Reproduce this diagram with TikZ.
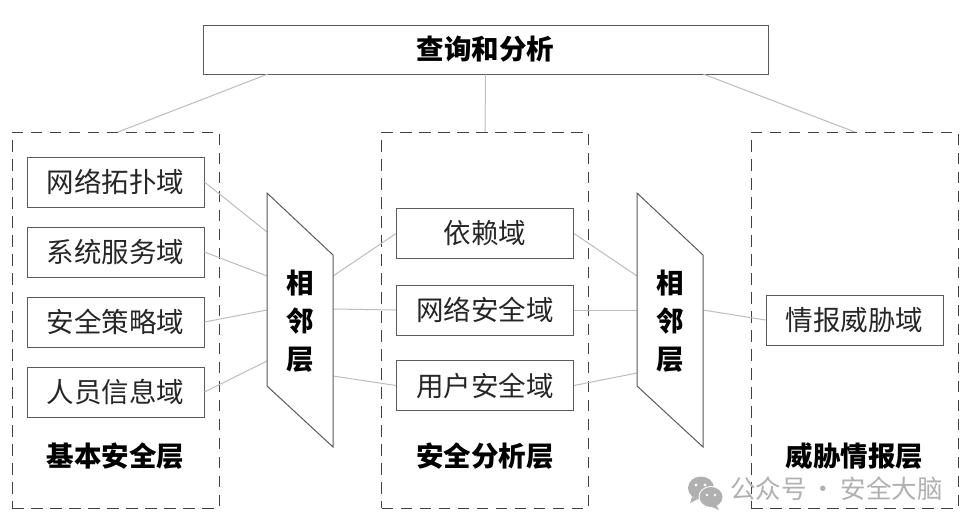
\documentclass[tikz,border=0pt]{standalone}
\usepackage{fontspec}
\setmainfont{Noto Sans CJK SC}
\definecolor{boxline}{HTML}{5A5A5A}
\definecolor{linkline}{HTML}{BDBDBD}
\definecolor{wm}{HTML}{B0B0B0}
\tikzset{
  boxnode/.style={draw=boxline,line width=0.9pt,fill=white,inner sep=0pt,minimum width=177pt,minimum height=50pt,font=\fontsize{27.5}{30}\selectfont,text=black!85},
  zone/.style={draw=black!75,line width=1pt,dash pattern=on 11.5pt off 7.5pt,inner sep=0pt,minimum width=207pt,minimum height=376pt},
  link/.style={draw=linkline,line width=1pt},
  para/.style={draw=boxline,line width=1pt,fill=white,line join=miter},
  head/.style={font=\bfseries\fontsize{27.5}{30}\selectfont,text=black,inner sep=0pt},
  vhead/.style={font=\bfseries\fontsize{27.5}{38}\selectfont,text=black,inner sep=0pt,align=center},
}
\begin{document}
\begin{tikzpicture}[x=1pt,y=-1pt]
\useasboundingbox (0,0) rectangle (973,528);
\fill[white] (0,0) rectangle (973,528);
% zones
\node[zone] (zoneA) at (115.5,320) {};
\node[zone] (zoneB) at (485,320) {};
\node[zone] (zoneC) at (854.5,320) {};
% top
\node[boxnode,minimum width=565pt,minimum height=49pt,font=\bfseries\fontsize{27.5}{30}\selectfont,text=black] (top) at (485.5,49.5) {查询和分析};
% boxes
\node[boxnode] (a1) at (115.5,182) {网络拓扑域};
\node[boxnode] (a2) at (115.5,252) {系统服务域};
\node[boxnode] (a3) at (115.5,322) {安全策略域};
\node[boxnode] (a4) at (115.5,392) {人员信息域};
\node[boxnode] (b1) at (485,233.5) {依赖域};
\node[boxnode] (b2) at (485,310) {网络安全域};
\node[boxnode] (b3) at (485,385.5) {用户安全域};
\node[boxnode] (c1) at (854.5,320) {情报威胁域};
% parallelograms
\coordinate (p1a) at (267,193); \coordinate (p1b) at (333,255);
\coordinate (p1c) at (333,447); \coordinate (p1d) at (267,386);
\coordinate (p2a) at (637,193); \coordinate (p2b) at (703,255);
\coordinate (p2c) at (703,447); \coordinate (p2d) at (637,386);
\coordinate (t1) at (118,132); \coordinate (t2) at (485,132); \coordinate (t3) at (855,132);
\coordinate (tf1) at (268,74); \coordinate (tf3) at (703,74);
% connector ends on the parallelograms
\coordinate (l1) at (267,232); \coordinate (l2) at (267,276); \coordinate (l3) at (267,310); \coordinate (l4) at (267,361);
\coordinate (m1) at (333,276); \coordinate (m2) at (333,309); \coordinate (m3) at (333,376);
\coordinate (n1) at (637,276); \coordinate (n2) at (637,310); \coordinate (n3) at (637,373);
\coordinate (o1) at (703,310);
\draw[link] (tf1) -- (t1);
\draw[link] (top.south) -- (t2);
\draw[link] (tf3) -- (t3);
\draw[link] (a1.east) -- (l1);
\draw[link] (a2.east) -- (l2);
\draw[link] (a3.east) -- (l3);
\draw[link] (a4.east) -- (l4);
\draw[link] (m1) -- (b1.west);
\draw[link] (m2) -- (b2.west);
\draw[link] (m3) -- (b3.west);
\draw[link] (b1.east) -- (n1);
\draw[link] (b2.east) -- (n2);
\draw[link] (b3.east) -- (n3);
\draw[link] (o1) -- (c1.west);
\draw[para] (p1a) -- (p1b) -- (p1c) -- (p1d) -- cycle;
\draw[para] (p2a) -- (p2b) -- (p2c) -- (p2d) -- cycle;
\node[vhead] (v1) at (300,321) {相\\邻\\层};
\node[vhead] (v2) at (670,321) {相\\邻\\层};
\node[head] (h1) at (115.5,456.5) {基本安全层};
\node[head] (h2) at (485,456.5) {安全分析层};
\node[head] (h3) at (854.5,456.5) {威胁情报层};
% watermark
\fill[wm] (701,488) ellipse (13pt and 11.5pt);
\fill[wm] (692,497) -- (690,503) -- (698,499) -- cycle;
\fill[white] (711,497) ellipse (12.5pt and 11pt);
\fill[wm] (711,497) ellipse (11.5pt and 10pt);
\fill[wm] (716,505) -- (719,510) -- (712,507) -- cycle;
\fill[white] (696,485) circle (1.7pt) (705,485) circle (1.7pt) (707,495) circle (1.4pt) (715,495) circle (1.4pt);
\node[font=\fontsize{25.5}{30}\selectfont,text=wm,inner sep=0pt] (wmtext) at (836.5,489) {公众号\,·\,安全大脑};
\end{tikzpicture}
\end{document}
